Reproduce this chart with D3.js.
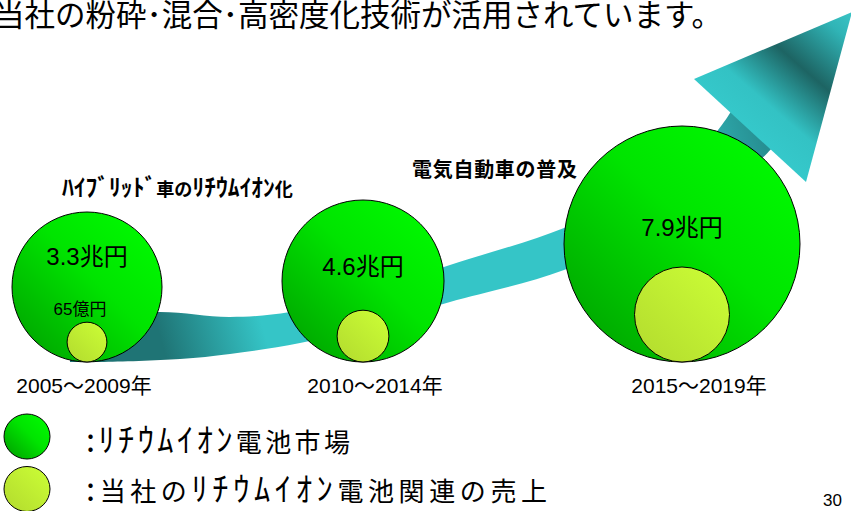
<!DOCTYPE html>
<html>
<head>
<meta charset="utf-8">
<script src="https://cdn.jsdelivr.net/npm/d3@7"></script>
<style>
  body { margin: 0; background: #fff; }
</style>
</head>
<body>
<div id="chart-area"></div>
<script>
// data
var title = "当社の粉砕･混合･高密度化技術が活用されています。";
var periods = ["2005～2009年", "2010～2014年", "2015～2019年"];
var marketValues = [3.3, 4.6, 7.9];          // 兆円, lithium-ion battery market
var salesValues = [65, 110, 370];            // 億円, own sales (only the first is labelled)
var salesLabels = ["65億円", "", ""];
var notes = ["ﾊｲﾌﾞﾘｯﾄﾞ車のﾘﾁｳﾑｲｵﾝ化", "電気自動車の普及"];
var legendLabels = [":ﾘﾁｳﾑｲｵﾝ電池市場", ":当社のﾘﾁｳﾑｲｵﾝ電池関連の売上"];
var pageNo = "30";

var width = 851, height = 511;
var jp = "'Noto Sans CJK JP', sans-serif";
var latin = "'Liberation Sans', Arial, 'Noto Sans CJK JP', sans-serif";

var svg = d3.select("#chart-area")
    .append("svg")
        .attr("width", width)
        .attr("height", height);

var defs = svg.append("defs");

function grad(id, stops, attrs) {
    var g = defs.append("linearGradient").attr("id", id);
    Object.keys(attrs).forEach(function(k){ g.attr(k, attrs[k]); });
    stops.forEach(function(s){
        g.append("stop").attr("offset", s[0]).attr("stop-color", s[1]);
    });
}
grad("green", [[0, "#009a00"], [0.55, "#00e400"], [1, "#00ff00"]],
    { x1: 0, y1: 1, x2: 1, y2: 0 });
grad("yellow", [[0, "#b2da2e"], [1, "#ccff36"]],
    { x1: 0, y1: 1, x2: 1, y2: 0 });
grad("band", [[0, "#1f7475"], [0.16, "#35c5c7"], [0.85, "#35c5c7"], [1, "#278f92"]],
    { gradientUnits: "userSpaceOnUse", x1: 150, y1: 300, x2: 760, y2: 130 });
grad("head", [[0, "#35c8ca"], [0.2, "#33c2c4"], [0.52, "#1d6463"], [0.85, "#30b4b6"], [1, "#3ac4c6"]],
    { gradientUnits: "userSpaceOnUse", x1: 750, y1: 130, x2: 852, y2: 12 });

// half-width kana look tiny in Noto, so give those runs a bigger size
function kanaText(sel, size, k) {
    sel.each(function(d){
        var t = d3.select(this);
        var runs = (typeof d === "string" ? d : t.text()).match(/[\uFF61-\uFF9F:]+|[^\uFF61-\uFF9F:]+/g);
        t.text(null);
        runs.forEach(function(run){
            var kana = /[\uFF61-\uFF9F:]/.test(run);
            t.append("tspan")
                .attr("font-size", (kana ? size * k : size) + "px")
                .text(run);
        });
    });
}

// scales
var r = d3.scaleLinear()
    .domain([3.3, 4.6, 7.9])
    .range([75, 81, 118]);

var rSales = d3.scaleSqrt()
    .domain([0, 370])
    .range([0, 47.5]);

// circles sit on one ground line, packed left to right
var ground = 362, left = 12, gap = 120;
var layout = [];
var cursor = left;
marketValues.forEach(function(v, i){
    var rad = r(v);
    layout.push({
        period: periods[i],
        market: v,
        sales: salesValues[i],
        salesLabel: salesLabels[i],
        r: rad,
        cx: cursor + rad,
        cy: ground - rad
    });
    cursor += 2 * rad + gap;
});

// title
svg.append("text")
    .attr("x", -6)
    .attr("y", 26)
    .attr("font-size", "30.5px")
    .attr("font-family", jp)
    .attr("fill", "#000")
    .text(title);

// curved arrow (drawn behind the circles)
var line = d3.line().curve(d3.curveCatmullRom);
var upper = [[70,318],[160,312],[230,317],[290,312],[370,292],[450,265],[564,228],[650,185],[712,137],[732,110]];
var lower = [[70,362],[100,362],[180,359],[230,354],[300,343],[380,323],[450,302],[564,270],[680,215],[760,160],[772,148]];
var bandPath = line(upper) + line(lower.slice().reverse()).replace(/^M/, "L") + "Z";

svg.append("path")
    .attr("d", bandPath)
    .attr("fill", "url(#band)");

svg.append("path")
    .attr("d", "M694,79L806,182L852,12Z")
    .attr("fill", "url(#head)");

// notes
svg.append("text")
    .datum(notes[0])
    .attr("x", 62)
    .attr("y", 196)
    .attr("font-family", jp)
    .attr("font-weight", "bold")
    .attr("textLength", 231)
    .attr("lengthAdjust", "spacingAndGlyphs")
    .call(kanaText, 18, 1.3);

svg.append("text")
    .attr("x", 412)
    .attr("y", 177)
    .attr("font-size", "20px")
    .attr("font-family", jp)
    .attr("font-weight", "bold")
    .attr("textLength", 165)
    .attr("lengthAdjust", "spacing")
    .text(notes[1]);

// market circles
var groups = svg.selectAll("g.period")
    .data(layout)
    .enter()
    .append("g")
        .attr("class", "period");

groups.append("circle")
    .attr("cx", function(d){ return d.cx; })
    .attr("cy", function(d){ return d.cy; })
    .attr("r", function(d){ return d.r; })
    .attr("fill", "url(#green)")
    .attr("stroke", "#000")
    .attr("stroke-width", 1);

// own sales circles, bottom aligned
groups.append("circle")
    .attr("cx", function(d){ return d.cx; })
    .attr("cy", function(d){ return ground - rSales(d.sales); })
    .attr("r", function(d){ return rSales(d.sales); })
    .attr("fill", "url(#yellow)")
    .attr("stroke", "#000")
    .attr("stroke-width", 1);

groups.append("text")
    .attr("x", function(d){ return d.cx; })
    .attr("y", function(d){ return d.salesLabel ? d.cy - 0.3 * d.r : d.cy - 0.07 * d.r; })
    .attr("text-anchor", "middle")
    .attr("font-size", "24px")
    .attr("font-family", latin)
    .text(function(d){ return d.market + "兆円"; });

groups.append("text")
    .attr("x", function(d){ return d.cx - 7; })
    .attr("y", function(d){ return ground - 2 * rSales(d.sales) - 7; })
    .attr("text-anchor", "middle")
    .attr("font-size", "17px")
    .attr("font-family", latin)
    .text(function(d){ return d.salesLabel; });

// period labels
groups.append("text")
    .attr("x", function(d, i){ return d.cx + [-3, 12, 17][i]; })
    .attr("y", 393)
    .attr("text-anchor", "middle")
    .attr("font-size", "21px")
    .attr("font-family", latin)
    .text(function(d){ return d.period; });

// legend
var legend = svg.selectAll("g.legend")
    .data(legendLabels)
    .enter()
    .append("g")
        .attr("class", "legend")
        .attr("transform", function(d, i){ return "translate(0," + (i * 49) + ")"; });

legend.append("ellipse")
    .attr("cx", 27)
    .attr("cy", function(d, i){ return i === 0 ? 436.5 : 440; })
    .attr("rx", 23)
    .attr("ry", 22.5)
    .attr("fill", function(d, i){ return i === 0 ? "url(#green)" : "url(#yellow)"; })
    .attr("stroke", "#000")
    .attr("stroke-width", 1);

legend.append("text")
    .attr("x", 86)
    .attr("y", 452)
    .attr("font-family", jp)
    .attr("textLength", function(d, i){ return i === 0 ? 264 : 461; })
    .attr("lengthAdjust", "spacing")
    .call(kanaText, 26, 1.25);

svg.append("text")
    .attr("x", 823)
    .attr("y", 506)
    .attr("font-size", "17px")
    .attr("font-family", latin)
    .text(pageNo);
</script>
</body>
</html>
